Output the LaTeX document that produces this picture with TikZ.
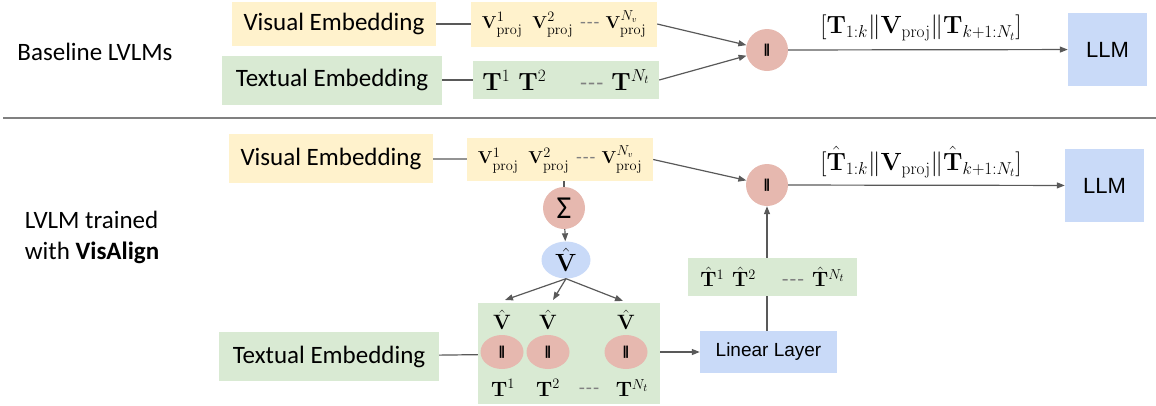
\documentclass[tikz,border=0pt]{standalone}
\usepackage{amsmath,amssymb}
\usepackage[no-math]{fontspec}
\setmainfont{Carlito}
\newfontfamily\arialfont{Liberation Sans}
\usetikzlibrary{shapes.geometric,arrows.meta,positioning,calc}
\definecolor{embyellow}{HTML}{FFF2CC}
\definecolor{embgreen}{HTML}{D9EAD3}
\definecolor{embblue}{HTML}{C9DAF8}
\definecolor{oppink}{HTML}{E6B8AF}
\definecolor{linegray}{HTML}{595959}
\newcommand{\dashdots}{{\color{gray}\normalfont-\kern1pt-\kern1pt-}}
\newcommand{\catbar}{{\arialfont\bfseries\fontsize{13}{13}\selectfont|\kern-1.2pt|}}
\begin{document}
\begin{tikzpicture}[
    x=1pt, y=-1pt,
    lab/.style={font=\fontsize{25}{31}\selectfont, align=left, inner sep=0pt},
    emb/.style={rectangle, minimum width=204pt, minimum height=46pt, inner sep=0pt, font=\fontsize{25}{30}\selectfont},
    tok/.style={rectangle, minimum width=186pt, inner sep=0pt, font=\fontsize{19}{23}\selectfont},
    cat/.style={circle, fill=oppink, minimum size=42pt, inner sep=0pt},
    llm/.style={rectangle, fill=embblue, minimum width=79pt, minimum height=73pt, inner sep=0pt, font=\arialfont\fontsize{22}{26}\selectfont},
    seqlabel/.style={inner sep=0pt, font=\fontsize{23}{27}\selectfont},
    link/.style={draw=linegray, line width=1.2pt},
    arrow/.style={link, -{Triangle[length=8pt,width=6pt]}}
]
    \useasboundingbox (0,0) rectangle (1156,405);

    % baseline
    \node (blab) [lab] at (95,52) {Baseline LVLMs};
    \node (ve1) [emb, fill=embyellow, minimum height=44pt] at (334,24) {Visual Embedding};
    \node (vt1) [tok, fill=embyellow, minimum height=45pt] at (564,24)
        {$\mathbf{V}^1_{\mathrm{proj}}$\hspace{10pt}$\mathbf{V}^2_{\mathrm{proj}}$\hspace{7pt}\dashdots\hspace{6pt}$\mathbf{V}^{N_v}_{\mathrm{proj}}$};
    \node (te1) [emb, fill=embgreen, minimum width=220pt, minimum height=49pt] at (332,80) {Textual Embedding};
    \node (tt1) [tok, fill=embgreen, minimum height=38pt, font=\fontsize{23}{27}\selectfont] at (566,80)
        {$\mathbf{T}^1$\hspace{8pt}$\mathbf{T}^2$\hspace{34pt}\dashdots\hspace{8pt}$\mathbf{T}^{N_t}$};
    \node (cat1) [cat] at (767,50) {\catbar};
    \node (llm1) [llm] at (1107.5,49.5) {LLM};
    \node (seq1) [seqlabel] at (921,28) {$[\mathbf{T}_{1:k}\|\mathbf{V}_{\mathrm{proj}}\|\mathbf{T}_{k+1:N_t}]$};

    \draw [link] (ve1) -- (vt1);
    \draw [link] (te1) -- (tt1);
    \draw [arrow] (vt1.east) -- (cat1);
    \draw [arrow] (tt1.east) -- (cat1);
    \draw [arrow] (cat1) -- (llm1);

    \draw [draw=gray, line width=1.2pt] (3,118) -- (1156,118);

    % visalign
    \node (vlab) [lab] at (92,237) {LVLM trained\\with \textbf{VisAlign}};
    \node (ve2) [emb, fill=embyellow, minimum height=49pt] at (331,158.5) {Visual Embedding};
    \node (vt2) [tok, fill=embyellow, minimum height=43pt] at (560,159.5)
        {$\mathbf{V}^1_{\mathrm{proj}}$\hspace{10pt}$\mathbf{V}^2_{\mathrm{proj}}$\hspace{7pt}\dashdots\hspace{6pt}$\mathbf{V}^{N_v}_{\mathrm{proj}}$};
    \node (sum) [cat, font=\fontsize{32}{34}\selectfont] at (564,208) {Σ};
    \node (vhat) [ellipse, fill=embblue, minimum width=49pt, minimum height=37pt, inner sep=0pt, font=\fontsize{23}{27}\selectfont] at (566,260) {$\hat{\mathbf{V}}$};

    \node (tc) [rectangle, fill=embgreen, minimum width=182pt, minimum height=101pt, inner sep=0pt] at (569,353.5) {};
    \foreach \i/\x in {1/502, 2/548, 3/626} {
        \node (vh\i) [inner sep=0pt, font=\fontsize{22}{26}\selectfont] at (\x,320) {$\hat{\mathbf{V}}$};
        \node (pc\i) [ellipse, fill=oppink, minimum width=43pt, minimum height=34pt, inner sep=0pt] at (\x,352) {\catbar};
    }
    \node (t1) [inner sep=0pt, font=\fontsize{22}{26}\selectfont] at (503,388) {$\mathbf{T}^1$};
    \node (t2) [inner sep=0pt, font=\fontsize{22}{26}\selectfont] at (548,388) {$\mathbf{T}^2$};
    \node (tdots) [inner sep=0pt, font=\fontsize{20}{24}\selectfont] at (589,391) {\dashdots};
    \node (t3) [inner sep=0pt, font=\fontsize{22}{26}\selectfont] at (632,388) {$\mathbf{T}^{N_t}$};
    \coordinate (in1) at (505,300);
    \coordinate (in2) at (553,300);
    \coordinate (in3) at (623,301);

    \node (te2) [emb, fill=embgreen, minimum width=220pt, minimum height=49pt] at (329,356.5) {Textual Embedding};
    \node (lin) [rectangle, fill=embblue, minimum width=137pt, minimum height=42pt, inner sep=0pt, font=\arialfont\fontsize{19}{23}\selectfont] at (768.5,352) {Linear Layer};
    \node (th) [tok, fill=embgreen, minimum width=169pt, minimum height=38pt, font=\fontsize{22}{26}\selectfont] at (772.5,277)
        {$\hat{\mathbf{T}}^1$\hspace{8pt}$\hat{\mathbf{T}}^2$\hspace{26pt}\dashdots\hspace{8pt}$\hat{\mathbf{T}}^{N_t}$};
    \node (cat2) [cat] at (767,185) {\catbar};
    \node (llm2) [llm] at (1104.5,185.5) {LLM};
    \node (seq2) [seqlabel] at (921,162) {$[\hat{\mathbf{T}}_{1:k}\|\mathbf{V}_{\mathrm{proj}}\|\hat{\mathbf{T}}_{k+1:N_t}]$};

    \draw [link] (ve2) -- (vt2);
    \draw [link] (sum.north |- vt2.south) -- (sum.north);
    \draw [arrow] (sum) -- (vhat);
    \foreach \i in {1,2,3}
        \draw [arrow] (vhat.south) -- (in\i);
    \draw [link] (te2) -- (tc);
    \draw [arrow] (tc.east |- lin.west) -- (lin.west);
    \draw [link] (lin.north -| cat2.south) -- (th.south -| cat2.south);
    \draw [arrow] (th.north -| cat2.south) -- (cat2.south);
    \draw [arrow] (vt2.east) -- (cat2);
    \draw [arrow] (cat2) -- (llm2);
\end{tikzpicture}
\end{document}
